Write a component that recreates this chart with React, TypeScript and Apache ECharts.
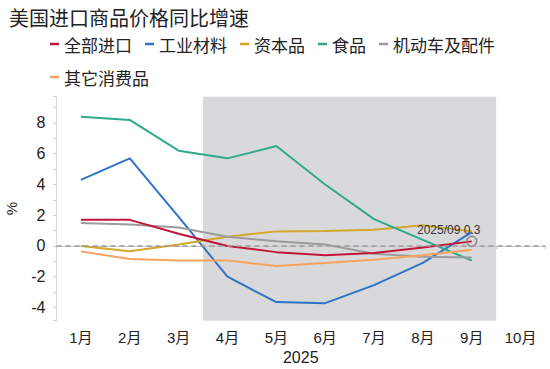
import React, { useEffect, useRef } from "react";
import * as echarts from "echarts";

const TITLE = "美国进口商品价格同比增速";
const CATEGORIES = ["1月", "2月", "3月", "4月", "5月", "6月", "7月", "8月", "9月", "10月"];
const X_NAME = "2025";
const Y_NAME = "%";
const Y_MIN = -4.86;
const Y_MAX = 9.71;

const SERIES_NAMES = ["全部进口", "工业材料", "资本品", "食品", "机动车及配件", "其它消费品"];
const COLORS = ["#C0163A", "#2F73C6", "#D4A72A", "#2FAA8C", "#9C9C9C", "#F7A35E"];

const ALL_IMPORTS = [1.7, 1.7, 0.8, 0.0, -0.4, -0.6, -0.45, -0.1, 0.3];
const INDUSTRIAL = [4.3, 5.7, 1.9, -2.0, -3.65, -3.72, -2.55, -1.1, 0.9];
const CAPITAL = [0.0, -0.35, 0.1, 0.6, 0.95, 0.97, 1.05, 1.35, 0.95];
const FOOD = [8.4, 8.2, 6.2, 5.7, 6.5, 4.0, 1.75, 0.4, -0.95];
const AUTOS = [1.5, 1.4, 1.2, 0.6, 0.3, 0.1, -0.5, -0.7, -0.75];
const CONSUMER = [-0.35, -0.85, -0.95, -0.95, -1.3, -1.1, -0.9, -0.6, -0.25];

const SHADE_START = "4月";
const SHADE_END = "9月";
const HIGHLIGHT_INDEX = 8;
const HIGHLIGHT_DATE = "2025/09";

const CJK = "'Liberation Sans', 'Noto Sans CJK SC', sans-serif";

export default function App() {
  const ref = useRef<HTMLDivElement>(null);

  useEffect(() => {
    if (!ref.current) return;
    const chart = echarts.init(ref.current, null, { renderer: "svg" });
    const seriesData = [ALL_IMPORTS, INDUSTRIAL, CAPITAL, FOOD, AUTOS, CONSUMER];

    const lineSeries: any[] = seriesData.map((vals, si) => {
      const data: any[] = vals.map((v, i) => {
        if (si === 0 && i === HIGHLIGHT_INDEX) {
          return {
            value: v,
            symbol: "circle",
            symbolSize: 10,
            itemStyle: { color: "rgba(0,0,0,0)", borderColor: "#8a8a8a", borderWidth: 1.5 },
            label: {
              show: true,
              position: "top",
              distance: 2,
              offset: [-23, 2],
              formatter: HIGHLIGHT_DATE + " " + v.toFixed(1),
              color: "#333",
              fontSize: 12,
              fontFamily: "'Liberation Sans', sans-serif",
            },
          };
        }
        return v;
      });
      const s: any = {
        name: SERIES_NAMES[si],
        type: "line",
        data,
        symbol: "none",
        showSymbol: true,
        lineStyle: { width: 2, color: COLORS[si] },
        itemStyle: { color: COLORS[si] },
        z: si === 0 ? 4 : 3,
      };
      if (si === 0) {
        s.markLine = {
          silent: true,
          symbol: "none",
          label: { show: false },
          lineStyle: { color: "#999", width: 1.5, type: [5, 4] },
          data: [{ yAxis: 0 }],
        };
      }
      return s;
    });

    const shadeSeries = {
      type: "custom",
      silent: true,
      z: 0,
      data: [[CATEGORIES.indexOf(SHADE_START), CATEGORIES.indexOf(SHADE_END)]],
      encode: { x: [0, 1] },
      renderItem: (params: any, api: any) => {
        const s = api.value(0);
        const e = api.value(1);
        const p0 = api.coord([s, Y_MAX]);
        const p1 = api.coord([e, Y_MIN]);
        const bw = api.size([1, 0])[0];
        return {
          type: "rect",
          shape: { x: p0[0] - bw / 2, y: p0[1], width: p1[0] - p0[0] + bw, height: p1[1] - p0[1] },
          style: { fill: "#d9d9db" },
        };
      },
    };

    chart.setOption({
      animation: false,
      title: {
        text: TITLE,
        left: 4,
        top: 2,
        textStyle: { fontSize: 20, fontWeight: "normal", color: "#222", fontFamily: "'Noto Sans CJK SC', sans-serif" },
      },
      legend: {
        data: SERIES_NAMES,
        left: 45,
        top: 29,
        width: 470,
        icon: "rect",
        itemWidth: 9,
        itemHeight: 2.5,
        itemGap: 13,
        textStyle: { fontSize: 17, lineHeight: 20, color: "#222", fontFamily: "'Noto Sans CJK SC', sans-serif" },
      },
      grid: { left: 56.5, right: 5, top: 96.7, bottom: 48.3, containLabel: false, outerBoundsMode: "none" },
      xAxis: {
        type: "category",
        data: CATEGORIES,
        boundaryGap: true,
        name: X_NAME,
        nameLocation: "middle",
        nameGap: 29,
        nameTextStyle: { fontSize: 16, color: "#222", fontFamily: "'Liberation Sans', sans-serif" },
        axisLine: { show: true, lineStyle: { color: "#c8c8c8", width: 1 } },
        axisTick: { show: true, length: 3, lineStyle: { color: "#c8c8c8" } },
        axisLabel: { fontSize: 15, color: "#222", margin: 9, fontFamily: CJK },
        splitLine: { show: false },
      },
      yAxis: [
        {
          type: "value",
          min: Y_MIN,
          max: Y_MAX,
          splitNumber: 7,
          name: Y_NAME,
          nameLocation: "middle",
          nameGap: 38,
          nameRotate: 90,
          nameTextStyle: { fontSize: 15, color: "#222", fontFamily: "'Liberation Sans', sans-serif" },
          axisLine: { show: true, lineStyle: { color: "#dcdcdc", width: 1 } },
          axisTick: { show: false },
          axisLabel: {
            fontSize: 16,
            color: "#222",
            margin: 11,
            showMinLabel: false,
            showMaxLabel: false,
            fontFamily: "'Liberation Sans', sans-serif",
          },
          splitLine: { show: false },
        },
        {
          type: "value",
          min: Y_MIN,
          max: Y_MAX,
          splitNumber: 14,
          position: "left",
          axisLine: { show: false },
          axisTick: { show: true, length: 3, lineStyle: { color: "#c8c8c8" } },
          axisLabel: { show: false },
          splitLine: { show: false },
        },
      ],
      series: [shadeSeries, ...lineSeries],
    });
    return () => chart.dispose();
  }, []);

  return (
    <div
      ref={ref}
      style={{ position: "fixed", left: 0, top: 0, width: 550, height: 369, background: "#fff" }}
    />
  );
}
